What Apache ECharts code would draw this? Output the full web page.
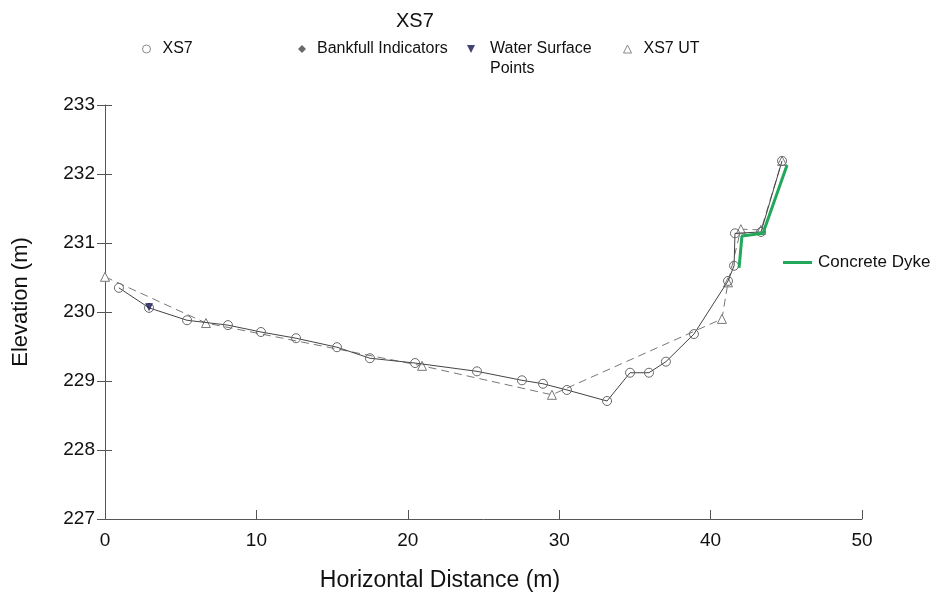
<!DOCTYPE html>
<html><head><meta charset="utf-8">
<script src="https://cdn.jsdelivr.net/npm/echarts@6/dist/echarts.min.js"></script>
<style>html,body{margin:0;padding:0;background:#fff}#c{width:931px;height:594px}</style>
</head><body><div id="c"></div>
<script>
var xs7X = [0.92, 2.91, 5.42, 8.12, 10.30, 12.62, 15.32, 17.50, 20.48, 24.57, 27.54, 28.93, 30.51, 33.16, 34.68, 35.93, 37.05, 38.90, 41.15, 41.55, 41.61, 43.33, 44.72];
var xs7Y = [230.35, 230.06, 229.88, 229.81, 229.71, 229.62, 229.49, 229.33, 229.26, 229.14, 229.01, 228.96, 228.87, 228.71, 229.12, 229.12, 229.28, 229.68, 230.45, 230.67, 231.14, 231.16, 232.19];
var utX = [0, 6.67, 20.94, 29.52, 40.75, 41.15, 42.0, 43.33, 44.72];
var utY = [230.51, 229.84, 229.22, 228.80, 229.90, 230.43, 231.20, 231.19, 232.19];
var dykeX = [41.88, 42.07, 43.46, 45.05];
var dykeY = [230.64, 231.10, 231.14, 232.13];
var wsX = [2.91];
var wsY = [230.07];
var bankX = [];
var bankY = [];
var xTicks = [0, 10, 20, 30, 40, 50];
var yTicks = [227, 228, 229, 230, 231, 232, 233];

function pairs(a, b) { return a.map(function (v, i) { return [v, b[i]]; }); }
var FONT = 'Liberation Sans, Arial, sans-serif';
var TRI_DOWN = 'path://M0,0 L10,0 L5,10 Z';
var chart = echarts.init(document.getElementById('c'));
function leg(item, left, top, pad) {
  return { data: [item], left: left, top: top, itemWidth: 8, itemHeight: 8, itemGap: 0,
    textStyle: { fontFamily: FONT, fontSize: 16, color: '#111', padding: [0, 0, 0, pad] }, selectedMode: false };
}
chart.setOption({
  animation: false,
  title: { text: 'XS7', left: 391, top: 6, textStyle: { fontFamily: FONT, fontSize: 20, fontWeight: 'normal', color: '#111' } },
  legend: [
    leg({ name: 'XS7', icon: 'circle', itemStyle: { color: '#fff', borderColor: '#888', borderWidth: 1 } }, 137, 36, 7),
    leg({ name: 'Bankfull Indicators', icon: 'diamond', itemStyle: { color: '#444', borderWidth: 0 } }, 293, 36, 6),
    Object.assign(leg({ name: 'Water Surface Points', icon: TRI_DOWN, itemStyle: { color: '#141450', borderWidth: 0 } }, 462, 36, 10),
      { formatter: function () { return 'Water Surface'; } }),
    leg({ name: 'XS7 UT', icon: 'triangle', itemStyle: { color: '#fff', borderColor: '#888', borderWidth: 1 } }, 618, 36, 7),
    { data: [{ name: 'Concrete Dyke', icon: 'rect', itemStyle: { color: '#21a85a' } }], left: 778, top: 249, itemWidth: 29, itemHeight: 3, selectedMode: false,
      textStyle: { fontFamily: FONT, fontSize: 17, color: '#111', padding: [0, 0, 0, 1] } }
  ],
  graphic: [
    { type: 'text', left: 490, top: 61, style: { text: 'Points', fontFamily: FONT, fontSize: 16, fill: '#111' } }
  ],
  grid: { left: 105, right: 69, top: 105, bottom: 75, outerBoundsMode: 'none', containLabel: false },
  xAxis: {
    type: 'value', min: 0, max: 50, interval: 10,
    name: 'Horizontal Distance (m)', nameLocation: 'middle', nameGap: 50,
    nameTextStyle: { fontFamily: FONT, fontSize: 23, color: '#111', padding: [0, 87, 0, 0] },
    axisLine: { show: true, lineStyle: { color: '#555', width: 1 } },
    axisTick: { show: true, inside: true, length: 9, lineStyle: { color: '#555' } },
    axisLabel: { fontFamily: FONT, fontSize: 19, color: '#111', margin: 12 },
    splitLine: { show: false }
  },
  yAxis: [{
    type: 'value', min: 227, max: 233, interval: 1,
    name: 'Elevation (m)', nameLocation: 'middle', nameGap: 73,
    nameTextStyle: { fontFamily: FONT, fontSize: 22, color: '#111', padding: [0, 0, 0, 20] },
    axisLine: { show: true, lineStyle: { color: '#555', width: 1 } },
    axisTick: { show: true, length: 8, lineStyle: { color: '#555' } },
    axisLabel: { fontFamily: FONT, fontSize: 19, color: '#111', margin: 10 },
    splitLine: { show: false }
  }, {
    type: 'value', min: 227, max: 233, interval: 1, position: 'left', offset: 0,
    axisLine: { show: false }, axisLabel: { show: false },
    axisTick: { show: true, inside: true, length: 7, lineStyle: { color: '#555' } },
    splitLine: { show: false }
  }],
  series: [
    { name: 'XS7 UT', type: 'line', data: pairs(utX, utY), symbol: 'triangle', symbolSize: 9, showAllSymbol: true,
      lineStyle: { color: '#777', width: 1, type: [8, 5] },
      itemStyle: { color: '#fff', borderColor: '#777', borderWidth: 1 }, z: 2 },
    { name: 'XS7', type: 'line', data: pairs(xs7X, xs7Y), symbol: 'circle', symbolSize: 9, showAllSymbol: true,
      lineStyle: { color: '#444', width: 1 },
      itemStyle: { color: 'rgba(255,255,255,0)', borderColor: '#666', borderWidth: 1 }, z: 3 },
    { name: 'Concrete Dyke', type: 'line', data: pairs(dykeX, dykeY), symbol: 'none',
      lineStyle: { color: '#21a85a', width: 3 }, itemStyle: { color: '#21a85a' }, z: 4 },
    { name: 'Water Surface Points', type: 'scatter', data: pairs(wsX, wsY), symbol: TRI_DOWN, symbolSize: 8,
      itemStyle: { color: '#141450' }, z: 5 },
    { name: 'Bankfull Indicators', type: 'scatter', data: pairs(bankX, bankY), symbol: 'diamond', symbolSize: 9,
      itemStyle: { color: '#444' }, z: 5 }
  ]
});
</script></body></html>
